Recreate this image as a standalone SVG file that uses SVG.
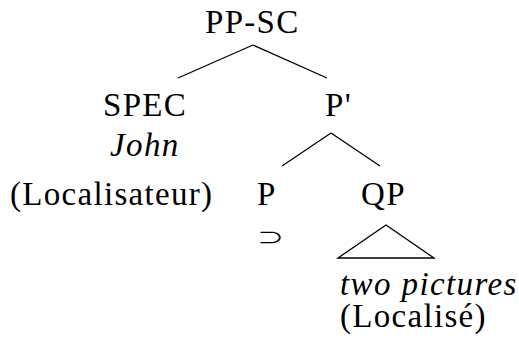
<svg xmlns="http://www.w3.org/2000/svg" width="519" height="342" viewBox="0 0 519 342">
<style>
text{font-family:"Liberation Serif","Times New Roman",serif;font-size:33px;fill:#000;letter-spacing:1.3px}
.i{font-style:italic;letter-spacing:1.4px}
.sym{font-family:"Noto Sans CJK JP","DejaVu Sans",sans-serif;font-size:27px;letter-spacing:0}
line,polygon{stroke:#000;stroke-width:1.3;fill:none}
</style>
<rect width="519" height="342" fill="#fff"/>
<g id="connectors">
<line x1="253" y1="45" x2="178" y2="78"/>
<line x1="253" y1="45" x2="327" y2="78"/>
<line x1="331" y1="133" x2="282" y2="166"/>
<line x1="331" y1="133" x2="380" y2="166"/>
<polygon points="386,225 338,258 434,258"/>
</g>
<g id="ppsc"><text x="205" y="33">PP-SC</text></g>
<g id="spec"><text x="103" y="116">SPEC</text><text class="i" x="110" y="156">John</text></g>
<g id="pbar"><text x="325" y="116">P'</text></g>
<g id="localisateur"><text x="10" y="205">(Localisateur)</text></g>
<g id="p"><text x="257" y="205">P</text><text class="sym" transform="translate(257,243.7) scale(1,0.63)">⊃</text></g>
<g id="qp"><text x="361" y="205">QP</text></g>
<g id="localise"><text class="i" x="340" y="295">two pictures</text><text x="340" y="327">(Localisé)</text></g>
</svg>
